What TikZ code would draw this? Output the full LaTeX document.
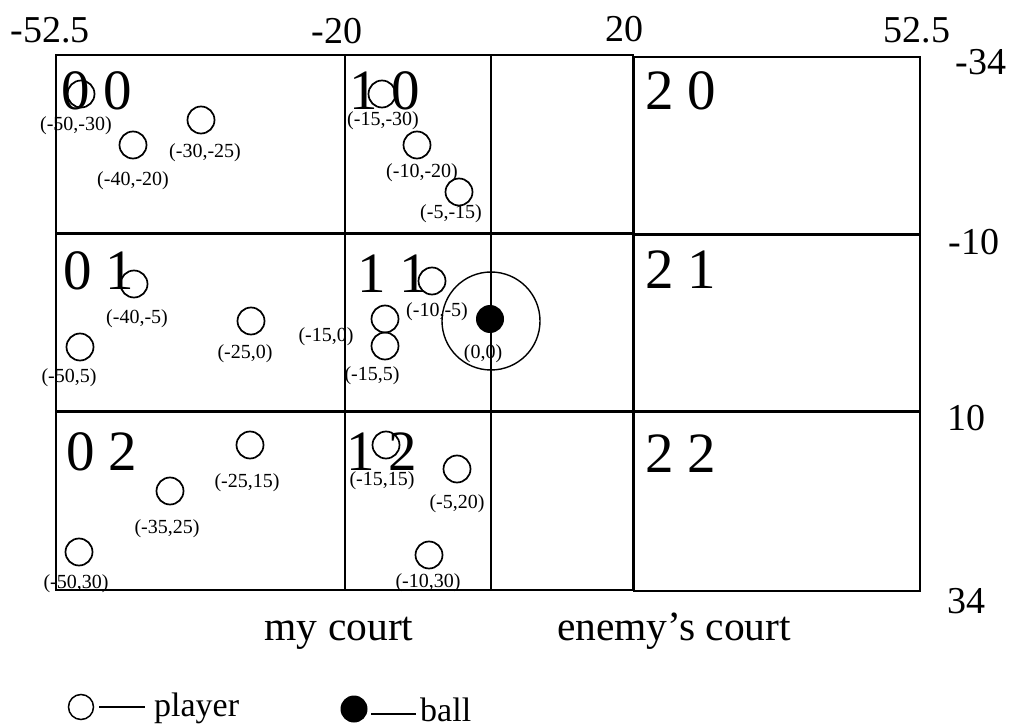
\documentclass[tikz,border=0pt]{standalone}
\usepackage{fontspec}
\setmainfont{Liberation Serif}
\begin{document}
\begin{tikzpicture}[x=1pt,y=-1pt,
  zonelab/.style={inner sep=0pt,anchor=base west,font=\fontsize{57}{60}\selectfont},
  axislab/.style={inner sep=0pt,font=\fontsize{38}{42}\selectfont},
  coordlab/.style={inner sep=0pt,font=\fontsize{20}{22}\selectfont},
  courtlab/.style={inner sep=0pt,anchor=base,font=\fontsize{41.5}{44}\selectfont},
  leglab/.style={inner sep=0pt,anchor=base west,font=\fontsize{34}{38}\selectfont},
  player/.style={circle,draw,line width=1.7pt,minimum size=27pt,inner sep=0pt},
  ballnode/.style={circle,fill=black,minimum size=28pt,inner sep=0pt},
  outer/.style={line width=2.0pt},
  rowline/.style={line width=3.0pt},
  colline/.style={line width=2.0pt},
  midline/.style={line width=1.4pt},
  legdash/.style={line width=1.4pt}]
\useasboundingbox (0,0) rectangle (1010,727);
\fill[white] (0,0) rectangle (1010,727);
% grid: left part
\draw[outer] (56,55) rectangle (633,590);
\draw[colline] (345,55) -- (345,590);
\draw[midline] (491,55) -- (491,590);
\draw[rowline] (56,234) -- (633,234);
\draw[rowline] (56,412) -- (633,412);
% grid: right part
\draw[outer] (634,57) rectangle (920,591);
\draw[rowline] (634,235) -- (920,235);
\draw[rowline] (634,412) -- (920,412);
% axis labels
\node[axislab] (ax1) at (50,30) {-52.5};
\node[axislab] (ax2) at (337,31) {-20};
\node[axislab] (ax3) at (624,29) {20};
\node[axislab] (ax4) at (917,30) {52.5};
\node[axislab] (ay1) at (981,62) {-34};
\node[axislab] (ay2) at (974,242) {-10};
\node[axislab] (ay3) at (966,418) {10};
\node[axislab] (ay4) at (966,601) {34};
% zone labels
\node[zonelab] (z00) at (61,110) {0 0};
\node[zonelab] (z10) at (349,110) {1 0};
\node[zonelab] (z20) at (645,110) {2 0};
\node[zonelab] (z01) at (63,290) {0 1};
\node[zonelab] (z11) at (357,293) {1 1};
\node[zonelab] (z21) at (645,289) {2 1};
\node[zonelab] (z02) at (66,470) {0 2};
\node[zonelab] (z12) at (346,470) {1 2};
\node[zonelab] (z22) at (645,472) {2 2};
% big circle and ball
\node[circle,draw,line width=1.4pt,minimum size=98pt,inner sep=0pt] (zone) at (491,321) {};
\node[ballnode] (ball) at (490,319) {};
% players
\node[player] (p1) at (81,94) {};
\node[player] (p2) at (133,145) {};
\node[player] (p3) at (201,120) {};
\node[player] (p4) at (382,94) {};
\node[player] (p5) at (417,145) {};
\node[player] (p6) at (459,192) {};
\node[player] (p7) at (134,284) {};
\node[player] (p8) at (251,321) {};
\node[player] (p9) at (80,347) {};
\node[player] (p10) at (385,319) {};
\node[player] (p11) at (385,346) {};
\node[player] (p12) at (432,281) {};
\node[player] (p13) at (250,445) {};
\node[player] (p14) at (170,491) {};
\node[player] (p15) at (79,552) {};
\node[player] (p16) at (386,445) {};
\node[player] (p17) at (457,469) {};
\node[player] (p18) at (429,555) {};
% coordinate labels
\node[coordlab] (c1) at (76,126) {(-50,-30)};
\node[coordlab] (c2) at (133,181) {(-40,-20)};
\node[coordlab] (c3) at (205,153) {(-30,-25)};
\node[coordlab] (c4) at (383,121) {(-15,-30)};
\node[coordlab] (c5) at (422,173) {(-10,-20)};
\node[coordlab] (c6) at (451,214) {(-5,-15)};
\node[coordlab] (c7) at (137,319) {(-40,-5)};
\node[coordlab] (c8) at (245,354) {(-25,0)};
\node[coordlab] (c9) at (69,378) {(-50,5)};
\node[coordlab] (c10) at (326,337) {(-15,0)};
\node[coordlab] (c11) at (372,376) {(-15,5)};
\node[coordlab] (c12) at (437,312) {(-10,-5)};
\node[coordlab] (c0) at (483,354) {(0,0)};
\node[coordlab] (c13) at (247,483) {(-25,15)};
\node[coordlab] (c14) at (167,529) {(-35,25)};
\node[coordlab] (c15) at (76,584) {(-50,30)};
\node[coordlab] (c16) at (382,481) {(-15,15)};
\node[coordlab] (c17) at (457,504) {(-5,20)};
\node[coordlab] (c18) at (428,583) {(-10,30)};
% court labels
\node[courtlab] (my) at (339,640) {my court};
\node[courtlab] (enemy) at (674,640) {enemy’s court};
% legend
\node[circle,draw,line width=1.5pt,minimum size=25pt,inner sep=0pt] (legp) at (81,707) {};
\coordinate (lpa) at (99,707);
\coordinate (lpb) at (145,707);
\draw[legdash] (lpa) -- (lpb);
\node[leglab] (legpt) at (154,716) {player};
\node[ballnode,minimum size=27pt] (legb) at (354,709) {};
\coordinate (lba) at (371,714);
\coordinate (lbb) at (416,714);
\draw[legdash] (lba) -- (lbb);
\node[leglab] (legbt) at (420,721) {ball};
\end{tikzpicture}
\end{document}
